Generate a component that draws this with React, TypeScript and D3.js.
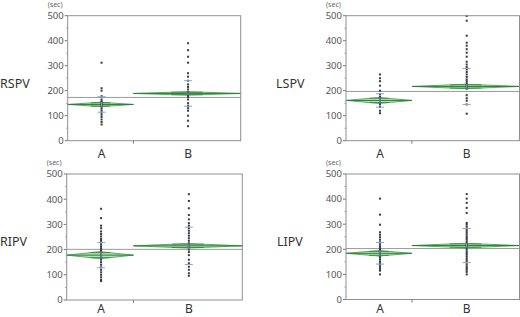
import React from "react";
import * as d3 from "d3";

// ---- data ----
const categories = ["A", "B"];
const groupN = [38, 62];
const veins = ["RSPV", "LSPV", "RIPV", "LIPV"];
const yTicks = [0, 100, 200, 300, 400, 500];
const yMinorTicks = [50, 150, 250, 350, 450];

const rspvA = [312, 210, 200, 178, 165, 158, 152, 147, 142, 136, 128, 120, 112, 104, 95, 85, 75, 65];
const rspvB = [390, 362, 336, 312, 270, 256, 240, 225, 215, 205, 195, 188, 180, 175, 165, 150, 140, 130, 120, 100, 80, 58];
const lspvA = [265, 250, 238, 220, 200, 185, 175, 168, 160, 152, 145, 135, 120, 110];
const lspvB = [499, 480, 420, 392, 380, 366, 352, 336, 316, 305, 295, 285, 275, 265, 255, 245, 238, 230, 222, 215, 208, 182, 170, 160, 145, 108];
const ripvA = [362, 325, 295, 285, 272, 262, 252, 242, 235, 228, 220, 212, 205, 198, 190, 182, 175, 168, 160, 150, 140, 130, 120, 110, 100, 90, 80, 75];
const ripvB = [420, 393, 364, 337, 320, 305, 295, 285, 275, 265, 255, 245, 235, 225, 218, 210, 200, 190, 178, 160, 146, 132, 120, 106, 96];
const lipvA = [402, 338, 298, 268, 258, 248, 238, 228, 220, 212, 205, 198, 190, 182, 175, 168, 160, 152, 145, 138, 130, 122, 115, 100];
const lipvB = [420, 402, 385, 365, 345, 305, 298, 290, 282, 275, 268, 260, 252, 245, 238, 230, 222, 215, 208, 200, 192, 185, 178, 170, 162, 155, 148, 140, 132, 125, 118, 110, 100];

const pointsByVein = [[rspvA, rspvB], [lspvA, lspvB], [ripvA, ripvB], [lipvA, lipvB]];
const groupMeans = [[145, 189], [161, 217], [178, 215], [184, 215]];
const grandMeans = [173, 197, 201, 203];
const ciHalf = [[9, 7], [12, 9], [14, 9], [11, 9]];
const sdValues = [[31, 51], [27, 72], [50, 74], [43, 68]];

// ---- layout ----
const frames = [
  { x0: 67.7, x1: 240.7, y0: 15.7, y1: 140.7, lx: 0, ly: 84, xl: 158.3 },
  { x0: 346, x1: 519.5, y0: 15.7, y1: 140.7, lx: 276, ly: 84, xl: 158.3 },
  { x0: 66.7, x1: 242.3, y0: 174, y1: 300, lx: 0, ly: 242, xl: 313 },
  { x0: 346, x1: 519.5, y0: 174, y1: 299.5, lx: 277, ly: 242, xl: 313 },
];

const FONT = "'Noto Sans', 'DejaVu Sans', sans-serif";

function Panel({ i }: { i: number }) {
  const f = frames[i];
  const y = d3.scaleLinear().domain([0, 500]).range([f.y1, f.y0]);
  const total = d3.sum(groupN);
  const cum = [0, ...d3.cumsum(groupN)];
  const xb = d3.scaleLinear().domain([0, total]).range([f.x0, f.x1]);
  const bands = categories.map((c, g) => ({ left: xb(cum[g]), right: xb(cum[g + 1]) }));
  return (
    <g>
      <text x={f.lx} y={f.ly} dy="0.35em" fontSize={12.5} fill="#333" fontFamily={FONT}>
        {veins[i]}
      </text>
      <text x={f.x0 - 20} y={f.y0 - 11} dy="0.35em" fontSize={7} fill="#666" fontFamily={FONT}>
        (sec)
      </text>
      {/* y axis ticks */}
      {yTicks.map((t) => (
        <g key={t}>
          <line x1={f.x0 - 3} x2={f.x0} y1={y(t)} y2={y(t)} stroke="#777" />
          <text x={f.x0 - 4} y={y(t)} dy="0.35em" textAnchor="end" fontSize={9.5} fill="#555" fontFamily={FONT}>
            {t}
          </text>
        </g>
      ))}
      {yMinorTicks.map((t) => (
        <line key={t} x1={f.x0 - 1.5} x2={f.x0} y1={y(t)} y2={y(t)} stroke="#999" />
      ))}
      {/* grand mean */}
      <line x1={f.x0} x2={f.x1} y1={y(grandMeans[i])} y2={y(grandMeans[i])} stroke="#9a9a9a" strokeWidth={1} />
      {/* diamonds */}
      {bands.map((b, g) => {
        const m = groupMeans[i][g];
        const h = ciHalf[i][g];
        const cx = (b.left + b.right) / 2;
        const hw = (b.right - b.left) / 2;
        const pts = [
          [b.left, y(m)],
          [cx, y(m + h)],
          [b.right, y(m)],
          [cx, y(m - h)],
        ];
        const om = h / Math.SQRT2;
        const ow = hw * (1 - 1 / Math.SQRT2);
        return (
          <g key={g}>
            <polygon points={pts.map((p) => p.join(",")).join(" ")} fill="#a6dba0" fillOpacity={0.8} stroke="#3c9a4c" strokeWidth={0.8} />
            <line x1={b.left} x2={b.right} y1={y(m)} y2={y(m)} stroke="#2e7d3a" strokeWidth={1} />
            <line x1={cx - ow} x2={cx + ow} y1={y(m + om)} y2={y(m + om)} stroke="#2e7d3a" strokeWidth={0.8} />
            <line x1={cx - ow} x2={cx + ow} y1={y(m - om)} y2={y(m - om)} stroke="#2e7d3a" strokeWidth={0.8} />
          </g>
        );
      })}
      {/* points */}
      {bands.map((b, g) => {
        const cx = (b.left + b.right) / 2 + 1;
        return (
          <g key={g}>
            {pointsByVein[i][g].map((v, k) => (
              <rect key={k} x={cx - 1} y={y(v) - 1} width={2} height={2} fill="#3a3a3a" />
            ))}
          </g>
        );
      })}
      {/* sd / error bars */}
      {bands.map((b, g) => {
        const cx = (b.left + b.right) / 2 + 1;
        const m = groupMeans[i][g];
        const sd = sdValues[i][g];
        const h = ciHalf[i][g];
        return (
          <g key={g} stroke="#7fa7dd" strokeWidth={1}>
            <line x1={cx - 4} x2={cx + 4} y1={y(m + sd)} y2={y(m + sd)} />
            <line x1={cx - 4} x2={cx + 4} y1={y(m - sd)} y2={y(m - sd)} />
            <line x1={cx} x2={cx} y1={y(m + h)} y2={y(m - h)} />
          </g>
        );
      })}
      {/* frame */}
      <rect x={f.x0} y={f.y0} width={f.x1 - f.x0} height={f.y1 - f.y0} fill="none" stroke="#8f8f8f" strokeWidth={1} />
      {/* x axis */}
      <line x1={bands[0].right} x2={bands[0].right} y1={f.y1} y2={f.y1 + 3} stroke="#777" />
      {bands.map((b, g) => (
        <text key={g} x={(b.left + b.right) / 2 + 1} y={f.xl} fontSize={12} fill="#333" textAnchor="middle" fontFamily={FONT}>
          {categories[g]}
        </text>
      ))}
    </g>
  );
}

export default function App() {
  return (
    <svg width={520} height={317} style={{ position: "absolute", left: 0, top: 0, background: "#fff" }}>
      <rect width={520} height={317} fill="#fff" />
      {veins.map((v, i) => (
        <Panel key={v} i={i} />
      ))}
    </svg>
  );
}
